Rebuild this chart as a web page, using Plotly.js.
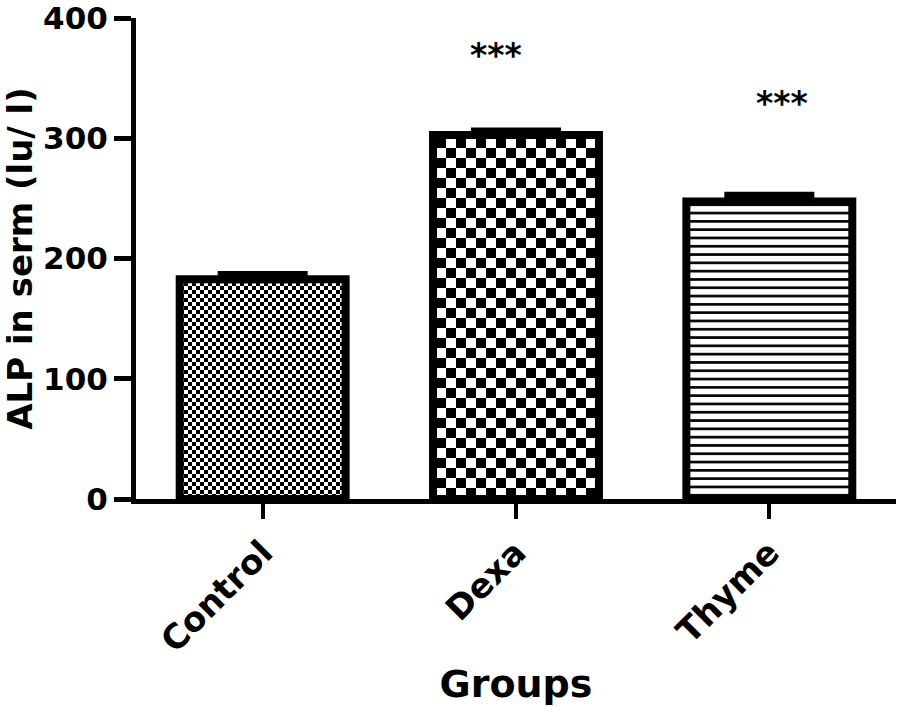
<!DOCTYPE html>
<html>
<head>
<meta charset="utf-8">
<script src="https://cdn.plot.ly/plotly-3.0.1.min.js"></script>
<style>
html,body{margin:0;padding:0;background:#fff;}
#chart{width:897px;height:706px;}
</style>
</head>
<body>
<div id="chart"></div>
<script>
// ---- data ----
const groups = ["Control", "Dexa", "Thyme"];
const alpMean = [182.8, 302.7, 247.4];
const alpSem = [3.4, 3.0, 4.7];
const sigLabels = ["", "***", "***"];
const yTickVals = [0, 100, 200, 300, 400];
const yTickText = ["0", "100", "200", "300", "400"];

// ---- styles ----
const FONT = "DejaVu Sans";
const fillKinds = ["checker4", "checker10", "lines"];
const sigShift = [{x: 0, y: 0}, {x: -20, y: 76}, {x: 13, y: 92}];

const trace = {
  type: "bar",
  x: groups,
  y: alpMean,
  width: 0.655,
  marker: {
    color: "white",
    line: {color: "black", width: 8},
    pattern: {
      shape: ["x", "x", "-"],
      size: [8, 20, 8.3],
      solidity: [0.3, 0.3, 0.32],
      fgcolor: "black",
      bgcolor: "white",
      fillmode: "replace"
    }
  },
  error_y: {
    type: "data",
    array: alpSem,
    visible: true,
    symmetric: false,
    arrayminus: alpSem.map(() => 0),
    color: "black",
    thickness: 8,
    width: 45
  },
  hoverinfo: "none"
};

const annotations = [];
sigLabels.forEach((s, i) => {
  if (!s) return;
  annotations.push({
    x: groups[i],
    y: alpMean[i] + alpSem[i],
    xref: "x", yref: "y",
    text: s,
    showarrow: false,
    xshift: sigShift[i].x,
    yshift: sigShift[i].y,
    yanchor: "middle",
    font: {family: FONT, size: 33, weight: "bold", color: "black"}
  });
});

const layout = {
  width: 897,
  height: 706,
  margin: {l: 136, r: 1, t: 18, b: 207, pad: 0},
  paper_bgcolor: "white",
  plot_bgcolor: "white",
  showlegend: false,
  font: {family: FONT, weight: "bold", color: "black"},
  xaxis: {
    type: "category",
    range: [-0.5, 2.5],
    showline: true,
    linecolor: "black",
    linewidth: 5,
    ticks: "outside",
    ticklen: 15,
    tickwidth: 4,
    tickcolor: "black",
    tickangle: -45,
    tickfont: {family: FONT, size: 34, weight: "bold", color: "black"},
    showgrid: false,
    zeroline: false,
    title: {text: "Groups", font: {family: FONT, size: 38, weight: "bold", color: "black"}, standoff: 18}
  },
  yaxis: {
    range: [0, 400],
    tickvals: yTickVals,
    ticktext: yTickText,
    ticklabeloverflow: "allow",
    showline: true,
    linecolor: "black",
    linewidth: 5,
    ticks: "outside",
    ticklen: 17,
    tickwidth: 5,
    tickcolor: "black",
    tickfont: {family: FONT, size: 31, weight: "bold", color: "black"},
    showgrid: false,
    zeroline: false,
    title: {text: "ALP in serm (lu/ l)", font: {family: FONT, size: 34, weight: "bold", color: "black"}, standoff: 10}
  },
  annotations: annotations
};

const gd = document.getElementById("chart");
Plotly.newPlot(gd, [trace], layout, {staticPlot: true, displayModeBar: false}).then(() => {
  // turn the library-made pattern fills of the first two bars into checkerboards
  const NS = "http://www.w3.org/2000/svg";
  const paths = gd.querySelectorAll(".trace.bars .point path");
  const done = {};
  paths.forEach((p, i) => {
    const kind = fillKinds[i];
    if (!kind || kind.indexOf("checker") !== 0) return;
    const fill = p.style.fill || p.getAttribute("style") || "";
    const m = fill.match(/#([^'")]+)/);
    if (!m) return;
    const id = m[1];
    if (done[id]) return;
    const pat = document.getElementById(id);
    if (!pat) return;
    done[id] = true;
    const c = parseInt(kind.replace("checker", ""), 10);
    while (pat.firstChild) pat.removeChild(pat.firstChild);
    pat.setAttribute("width", 2 * c);
    pat.setAttribute("height", 2 * c);
    const mk = (x, y, w, h, col) => {
      const r = document.createElementNS(NS, "rect");
      r.setAttribute("x", x); r.setAttribute("y", y);
      r.setAttribute("width", w); r.setAttribute("height", h);
      r.setAttribute("fill", col);
      pat.appendChild(r);
    };
    mk(0, 0, 2 * c, 2 * c, "white");
    mk(0, 0, c, c, "black");
    mk(c, c, c, c, "black");
  });
});
</script>
</body>
</html>
